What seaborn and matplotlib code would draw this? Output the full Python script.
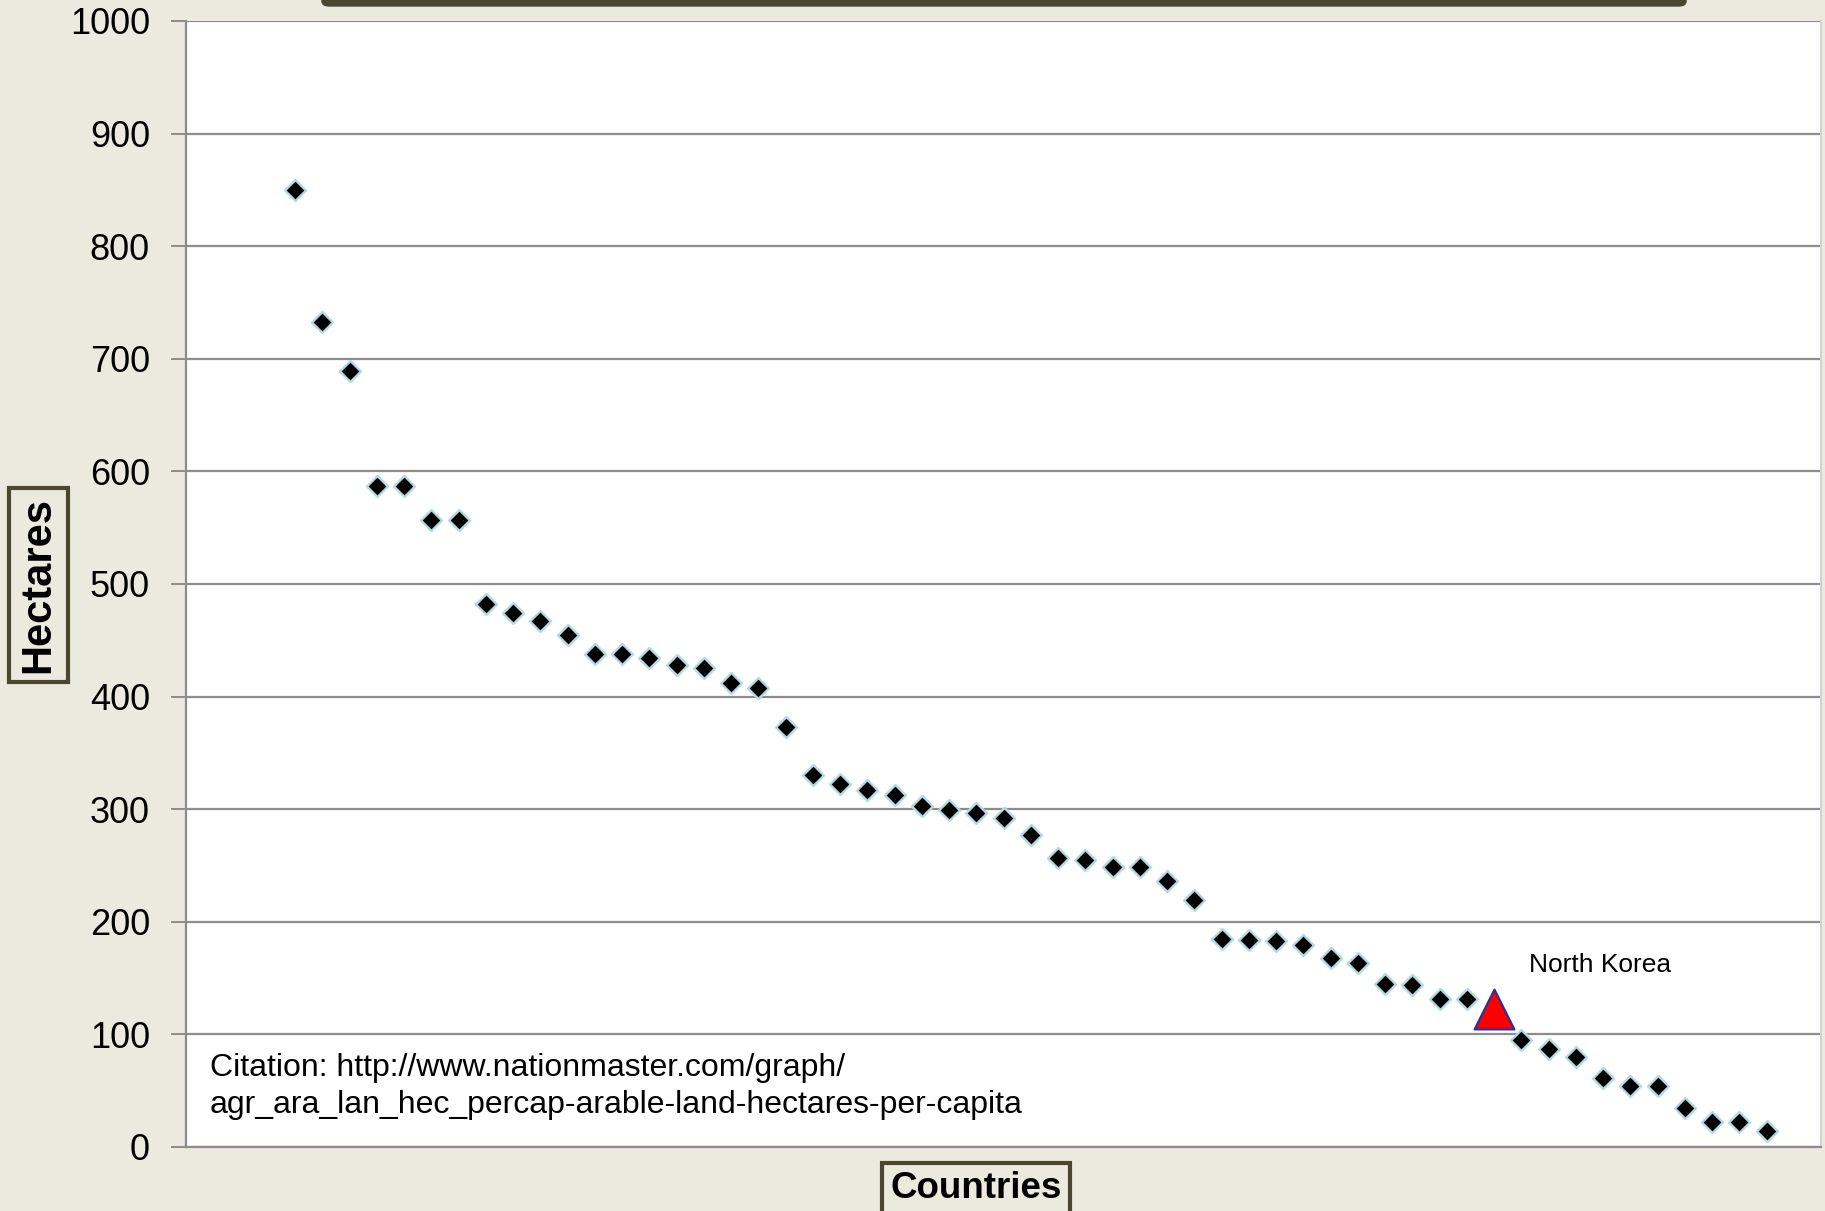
import matplotlib
matplotlib.use("Agg")
import matplotlib.pyplot as plt
import matplotlib.patches as mpatches
import seaborn as sns
import pandas as pd

# ---- data ----
country_rank = list(range(4, 59))
hectares = [850, 733, 689, 587, 587, 557, 557, 482, 474, 467, 455, 438, 438, 434,
            428, 425, 412, 408, 373, 330, 322, 317, 313, 303, 299, 297, 292, 277,
            257, 255, 249, 249, 236, 219, 185, 184, 183, 179, 168, 163, 145, 144,
            131, 131, None, 95, 87, 80, 61, 54, 54, 35, 22, 22, 14]
highlight_rank = [48]
highlight_value = [123]
highlight_label = "North Korea"
y_ticks = [0, 100, 200, 300, 400, 500, 600, 700, 800, 900, 1000]
x_label = "Countries"
y_label = "Hectares"
citation = ("Citation: http://www.nationmaster.com/graph/\n"
            "agr_ara_lan_hec_percap-arable-land-hectares-per-capita")

df = pd.DataFrame({"rank": country_rank, "hectares": hectares}).dropna()
hl = pd.DataFrame({"rank": highlight_rank, "hectares": highlight_value})

sns.set_theme(style="white")
plt.rcParams["font.family"] = ["Liberation Sans", "DejaVu Sans"]
plt.rcParams["text.color"] = "black"
plt.rcParams["ytick.labelcolor"] = "black"

BG = "#ECE9DF"
GRID = "#8C8C8C"
DARK = "#4B4630"

W, H = 1825, 1211
fig = plt.figure(figsize=(W / 100, H / 100), dpi=100, facecolor=BG)
ax = fig.add_axes([186 / W, 1 - 1147 / H, (1821 - 186) / W, (1147 - 21) / H])
ax.set_facecolor("white")

sns.scatterplot(data=df, x="rank", y="hectares", ax=ax, marker="D", s=115,
                color="black", edgecolor="#B5DCE2", linewidth=1.7, zorder=3,
                legend=False)
sns.scatterplot(data=hl, x="rank", y="hectares", ax=ax, marker="^", s=820,
                color="#FF0000", edgecolor="#2E3192", linewidth=1.6, zorder=4,
                legend=False)

ax.set_xlim(0, 60)
ax.set_ylim(0, 1000)
ax.set_yticks(y_ticks)
ax.set_yticklabels([str(v) for v in y_ticks], fontsize=26, color="black")
ax.set_xticks([])
ax.grid(axis="y", color=GRID, linewidth=1.6)
ax.set_axisbelow(True)
ax.tick_params(axis="y", left=True, length=11, width=1.4, color=GRID, pad=15)
for side in ["left", "bottom"]:
    ax.spines[side].set_color(GRID)
    ax.spines[side].set_linewidth(1.6)
ax.spines["top"].set_visible(False)
ax.spines["right"].set_color("#D4D4D4")
ax.spines["right"].set_linewidth(1.5)
ax.set_xlabel("")
ax.set_ylabel("")

ax.text(49.3, 162, highlight_label, fontsize=19, ha="left", va="center", color="black")
ax.text(0.88, 54, citation, fontsize=23, ha="left", va="center", linespacing=1.3,
        color="black")

fig.text(38.5 / W, 1 - 585 / H, y_label, rotation=90, fontsize=30, fontweight="bold",
         ha="center", va="center", color="black",
         bbox=dict(boxstyle="square,pad=0.22", facecolor=BG, edgecolor=DARK, linewidth=3))
fig.text(976 / W, 1 - 1189 / H, x_label, fontsize=26.5, fontweight="bold",
         ha="center", va="center", color="black",
         bbox=dict(boxstyle="square,pad=0.22", facecolor=BG, edgecolor=DARK, linewidth=3))

top_box = mpatches.FancyBboxPatch((322 / W, 1 - 6 / H), (1686 - 322) / W, 0.05,
                                  boxstyle="round,pad=0,rounding_size=0.004",
                                  transform=fig.transFigure, facecolor=DARK,
                                  edgecolor=DARK, linewidth=1, clip_on=False)
fig.patches.append(top_box)

fig.savefig("out.png", dpi=100, facecolor=BG)
